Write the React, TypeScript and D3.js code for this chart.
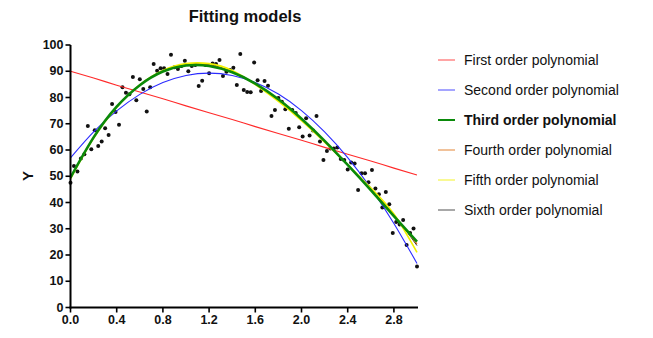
import React from "react";
import * as d3 from "d3";

// scatter data: x = i * 0.03
const pointY = [
  47.5, 53.9, 51.8, 56.8, 58.4, 69.1, 60.3, 67.5, 61.5, 63.2,
  68.3, 65.7, 77.5, 74.5, 69.6, 83.9, 81.8, 81.2, 87.8, 79.0,
  87.0, 83.2, 74.7, 83.9, 92.8, 90.2, 91.1, 91.1, 89.0, 96.3,
  91.5, 90.9, 92.0, 94.0, 90.0, 92.0, 92.4, 84.4, 86.4, 92.4,
  89.2, 93.0, 92.8, 94.3, 88.2, 89.8, 90.5, 91.3, 84.8, 96.6,
  82.9, 82.1, 82.0, 93.3, 86.6, 82.5, 86.3, 84.5, 73.0, 75.2,
  79.8, 78.4, 75.5, 68.1, 75.2, 74.1, 68.7, 65.1, 72.1, 65.5,
  67.4, 73.0, 63.2, 56.2, 59.6, 60.6, 60.6, 61.0, 56.6, 56.2,
  52.6, 55.2, 54.9, 44.8, 51.1, 51.1, 47.7, 52.4, 45.3, 43.1,
  38.1, 44.0, 39.3, 28.4, 32.6, 31.6, 33.3, 23.8, 28.4, 30.1,
  15.6,
];
const pointStep = 0.03;

// fitted curves sampled at x = 0, 0.2, ... 3.0
const curveX = [0, 0.2, 0.4, 0.6, 0.8, 1.0, 1.2, 1.4, 1.6, 1.8, 2.0, 2.2, 2.4, 2.6, 2.8, 3.0];
const firstOrder = [90, 87.4, 84.7, 82.1, 79.5, 76.8, 74.2, 71.6, 68.9, 66.3, 63.7, 61.0, 58.4, 55.8, 53.1, 50.5];
const secondOrder = [57, 66.9, 74.9, 81.2, 85.7, 88.4, 89.3, 88.4, 85.7, 81.3, 75.0, 66.9, 57.1, 45.5, 32.0, 16.8];
const thirdOrder = [49.5, 64.8, 76.5, 84.7, 89.9, 92.2, 92.0, 89.6, 85.3, 79.3, 71.9, 63.5, 54.3, 44.7, 34.8, 25.1];
const fourthOrder = [49.4, 64.7, 76.5, 84.8, 90.1, 92.5, 92.3, 89.8, 85.3, 79.1, 71.6, 63.2, 54.2, 44.9, 35.3, 24.2];
const fifthOrder = [49.0, 64.5, 76.3, 84.8, 90.3, 92.9, 92.9, 90.3, 84.9, 78.5, 71.2, 63.0, 54.4, 45.6, 35.6, 21.0];
const sixthOrder = [49.2, 64.6, 76.4, 84.8, 90.2, 92.6, 92.5, 89.9, 85.2, 79.0, 71.5, 63.1, 54.2, 44.9, 35.2, 23.6];

const seriesNames = [
  "First order polynomial",
  "Second order polynomial",
  "Third order polynomial",
  "Fourth order polynomial",
  "Fifth order polynomial",
  "Sixth order polynomial",
];
const xTicks = [0, 0.4, 0.8, 1.2, 1.6, 2.0, 2.4, 2.8];
const yTicks = [0, 10, 20, 30, 40, 50, 60, 70, 80, 90, 100];

const W = 653;
const H = 338;
const font = "'Liberation Sans', Arial, sans-serif";

export default function App() {
  const x = d3.scaleLinear().domain([0, 3.0]).range([70.5, 417]);
  const y = d3.scaleLinear().domain([0, 100]).range([307.5, 45]);

  const line = d3
    .line<number>()
    .x((_, i) => x(curveX[i]))
    .y((d) => y(d))
    .curve(d3.curveNatural);

  const series = [
    { name: seriesNames[0], data: firstOrder, color: "#ff2a2a", w: 1.1 },
    { name: seriesNames[1], data: secondOrder, color: "#2b2bff", w: 1.1 },
    { name: seriesNames[2], data: thirdOrder, color: "#0a8a0a", w: 2.6, bold: true },
    { name: seriesNames[3], data: fourthOrder, color: "#e07010", w: 1.1 },
    { name: seriesNames[4], data: fifthOrder, color: "#f2f200", w: 1.6 },
    { name: seriesNames[5], data: sixthOrder, color: "#333333", w: 1 },
  ];
  // draw order: green on top of the higher orders
  const drawOrder = [0, 1, 5, 3, 4, 2];

  return (
    <svg
      width={W}
      height={H}
      style={{ position: "absolute", left: 0, top: 0, background: "#fff", fontFamily: font }}
    >
      <text x={245} y={22} textAnchor="middle" fontSize={16.5} fontWeight="bold" fill="#111">
        Fitting models
      </text>

      {/* points */}
      {pointY.map((v, i) => (
        <circle key={i} cx={x(i * pointStep)} cy={y(v)} r={2} fill="#111" />
      ))}

      {/* curves */}
      {drawOrder.map((k) => (
        <path
          key={k}
          d={line(series[k].data) || ""}
          fill="none"
          stroke={series[k].color}
          strokeWidth={series[k].w}
        />
      ))}

      {/* y axis */}
      <line x1={x(0)} x2={x(0)} y1={y(0) + 1} y2={y(100)} stroke="#000" strokeWidth={2} />
      {yTicks.map((t) => (
        <g key={t} transform={`translate(0,${y(t)})`}>
          <line x1={x(0) - 5} x2={x(0)} stroke="#000" strokeWidth={1.6} />
          <text x={x(0) - 7} dy="0.33em" textAnchor="end" fontSize={12.5} fontWeight="bold" fill="#111">
            {t}
          </text>
        </g>
      ))}

      {/* x axis */}
      <line x1={x(0) - 1} x2={x(3.0) + 1} y1={y(0)} y2={y(0)} stroke="#000" strokeWidth={2} />
      {xTicks.map((t) => (
        <g key={t} transform={`translate(${x(t)},0)`}>
          <line y1={y(0)} y2={y(0) + 5} stroke="#000" strokeWidth={1.6} />
          <text y={y(0) + 16} textAnchor="middle" fontSize={12.5} fontWeight="bold" fill="#111">
            {t.toFixed(1)}
          </text>
        </g>
      ))}

      <text
        transform={`translate(33,176) rotate(-90)`}
        textAnchor="middle"
        fontSize={15}
        fontWeight="bold"
        fill="#111"
      >
        Y
      </text>

      {/* legend */}
      {series.map((s, i) => (
        <g key={s.name} transform={`translate(0,${60 + i * 30})`}>
          <line x1={438} x2={455} stroke={s.color} strokeWidth={s.bold ? 2 : 1.4} opacity={s.bold ? 1 : 0.6} />
          <text
            x={464}
            dy="0.35em"
            fontSize={14}
            fontWeight={s.bold ? "bold" : "normal"}
            fill="#111"
          >
            {s.name}
          </text>
        </g>
      ))}
    </svg>
  );
}
